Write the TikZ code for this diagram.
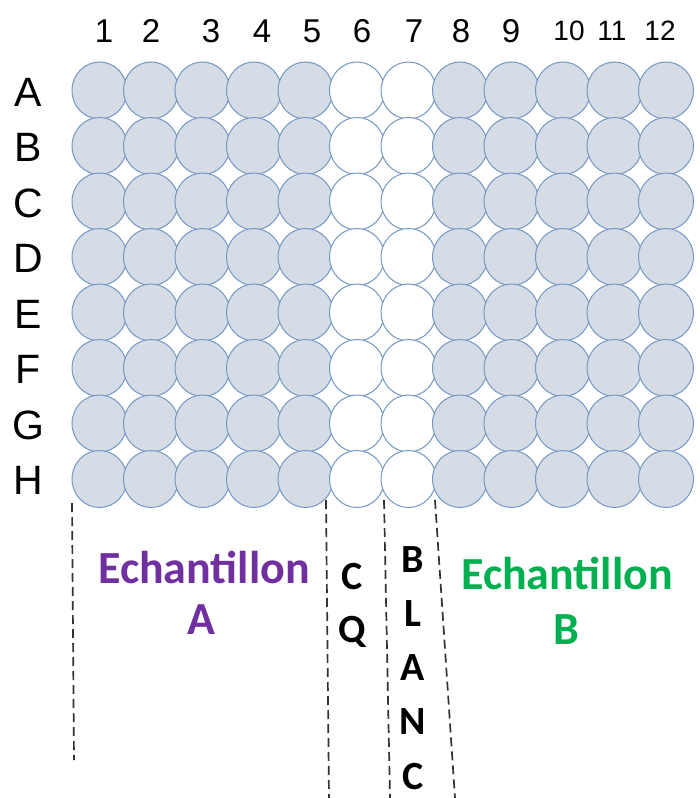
\documentclass[tikz,border=0pt]{standalone}
\usepackage{fontspec}
\setmainfont{Liberation Sans}
\newfontfamily\calfont{Carlito}
\usetikzlibrary{shapes.geometric}
\definecolor{wellfill}{HTML}{D6DCE5}
\definecolor{wellline}{HTML}{7397C2}
\definecolor{sampa}{HTML}{7030A0}
\definecolor{sampb}{HTML}{00B050}

\begin{document}
\begin{tikzpicture}[x=1pt, y=-1pt,
  well/.style={ellipse, draw=wellline, line width=1pt, fill=wellfill, minimum width=55pt, minimum height=57pt, inner sep=0pt},
  blankwell/.style={well, fill=white},
  collab/.style={anchor=base, font=\fontsize{33}{33}\selectfont},
  smallcol/.style={anchor=base, font=\fontsize{28}{28}\selectfont},
  rowlab/.style={anchor=base, font=\fontsize{41}{41}\selectfont},
  zone/.style={anchor=base, font=\calfont\bfseries\fontsize{46}{46}\selectfont},
  ctrl/.style={anchor=base, font=\calfont\bfseries\fontsize{40}{40}\selectfont},
  sep/.style={line width=1.7pt, dash pattern=on 9pt off 5pt, color=black!80}
]
\useasboundingbox (0,0) rectangle (699,798);

% plate
\foreach \r [count=\i] in {A,B,C,D,E,F,G,H} {
  \foreach \c in {1,...,12} {
    \ifnum\c=6 \def\wstyle{blankwell}\else\ifnum\c=7 \def\wstyle{blankwell}\else\def\wstyle{well}\fi\fi
    \node[\wstyle] (w-\r-\c) at ({99.5+51.5*(\c-1)}, {90.5+55.5*(\i-1)}) {};
  }
  \node[rowlab] (row-\r) at (28, {106+55.5*(\i-1)}) {\r};
}

% column numbers
\foreach \c/\x in {1/104, 2/151, 3/211, 4/262, 5/312, 6/362, 7/414, 8/461, 9/511}
  \node[collab] (col-\c) at (\x, 42) {\c};
\foreach \c/\x in {10/569, 11/612, 12/660}
  \node[smallcol] (col-\c) at (\x, 40) {\c};

% separators
\coordinate (sa-top) at (72,503);   \coordinate (sa-bot) at (74,760);
\coordinate (cq-top) at (326,500);  \coordinate (cq-bot) at (329,798);
\coordinate (bl-top) at (384,500);  \coordinate (bl-bot) at (390,798);
\coordinate (sb-top) at (435,500);  \coordinate (sb-bot) at (455,798);
\draw[sep] (sa-top) -- (sa-bot);
\draw[sep] (cq-top) -- (cq-bot);
\draw[sep] (bl-top) -- (bl-bot);
\draw[sep] (sb-top) -- (sb-bot);

% zones
\node[zone, text=sampa] (ech-a) at (204, 583) {Echantillon};
\node[zone, text=sampa] (ech-a2) at (201, 634) {A};
\node[zone, text=sampb] (ech-b) at (567, 589) {Echantillon};
\node[zone, text=sampb] (ech-b2) at (566, 644) {B};

% controls
\node[ctrl] (cq-1) at (352, 589) {C};
\node[ctrl] (cq-2) at (352, 642) {Q};
\foreach \l [count=\k] in {B,L,A,N,C}
  \node[ctrl] (blanc-\k) at (413, {572+54.3*(\k-1)}) {\l};
\end{tikzpicture}
\end{document}
